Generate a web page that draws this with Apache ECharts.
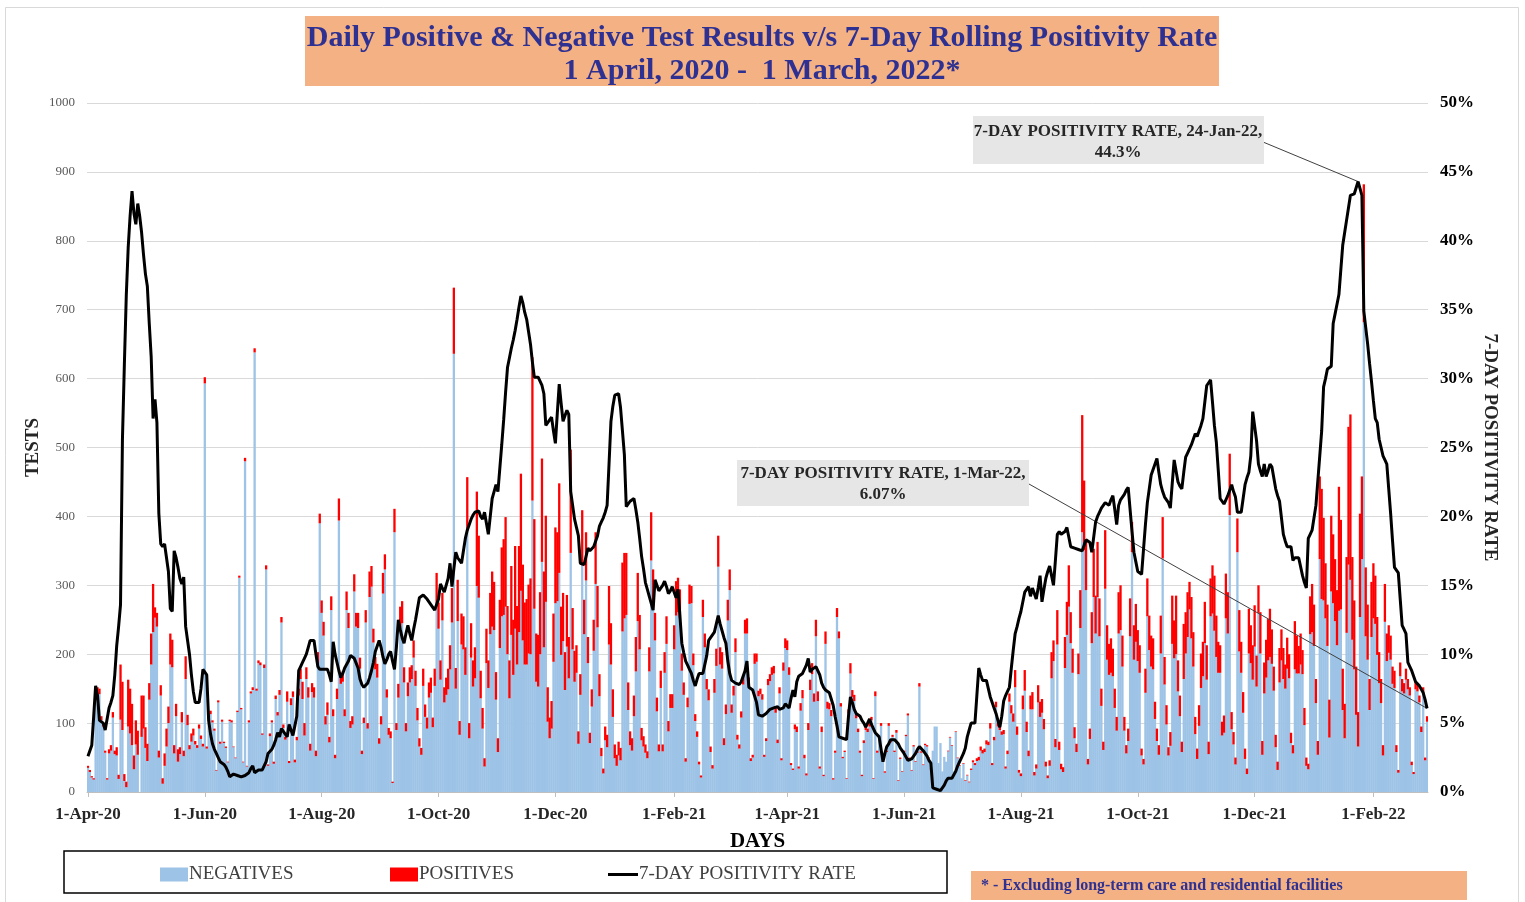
<!DOCTYPE html>
<html>
<head>
<meta charset="utf-8">
<script src="https://cdn.jsdelivr.net/npm/echarts@6/dist/echarts.min.js"></script>
<style>
  html, body { margin: 0; padding: 0; background: #fff; }
  #chart { width: 1525px; height: 902px; }
</style>
</head>
<body>
<div id="chart"></div>
<script>
// daily tests from 1-Apr-20 (index 0) to 1-Mar-22 (index 699)
const negatives = [
  35, 29, 21, 18, 146, 146, 142, 104, 95, 57,
  18, 56, 60, 108, 55, 53, 19, 105, 90, 16,
  7, 95, 85, 68, 33, 69, 54, 0, 80, 92,
  64, 45, 134, 185, 232, 253, 240, 50, 140, 12,
  38, 66, 100, 185, 181, 56, 110, 44, 55, 101,
  52, 164, 97, 62, 73, 82, 69, 64, 92, 77,
  66, 593, 63, 108, 113, 101, 89, 31, 130, 70,
  102, 71, 64, 43, 103, 101, 65, 49, 116, 311,
  120, 43, 480, 37, 101, 143, 148, 638, 147, 187,
  184, 83, 180, 323, 38, 81, 101, 41, 135, 111,
  141, 246, 93, 76, 131, 42, 126, 138, 43, 75,
  140, 164, 135, 82, 164, 137, 60, 145, 137, 52,
  183, 390, 260, 227, 98, 112, 72, 264, 110, 49,
  135, 394, 157, 160, 110, 264, 238, 93, 98, 291,
  240, 238, 179, 55, 100, 246, 92, 283, 298, 217,
  178, 166, 70, 98, 288, 323, 137, 83, 78, 13,
  377, 90, 137, 239, 245, 159, 88, 139, 159, 164,
  195, 154, 104, 66, 54, 154, 109, 92, 137, 144,
  94, 154, 269, 237, 163, 249, 130, 141, 149, 178,
  246, 636, 150, 248, 83, 214, 207, 170, 379, 78,
  195, 153, 165, 299, 282, 136, 92, 37, 187, 151,
  229, 240, 235, 134, 58, 209, 255, 257, 269, 200,
  136, 228, 170, 237, 185, 232, 292, 220, 185, 185,
  201, 200, 423, 266, 160, 153, 200, 334, 210, 276,
  102, 78, 92, 189, 274, 277, 318, 199, 219, 148,
  211, 165, 347, 207, 160, 173, 70, 141, 329, 229,
  307, 187, 71, 124, 205, 302, 239, 139, 52, 27,
  75, 65, 214, 185, 109, 49, 38, 53, 46, 233,
  252, 257, 119, 68, 60, 110, 175, 248, 207, 75,
  66, 57, 49, 175, 336, 268, 220, 117, 59, 151,
  59, 173, 215, 88, 122, 122, 207, 256, 261, 252,
  176, 141, 44, 123, 273, 274, 184, 103, 80, 40,
  21, 254, 210, 149, 133, 58, 34, 144, 183, 327,
  185, 179, 68, 113, 249, 293, 115, 140, 203, 76,
  63, 108, 156, 230, 230, 153, 45, 50, 186, 189,
  139, 142, 134, 51, 74, 155, 161, 170, 172, 115,
  71, 143, 46, 176, 209, 206, 170, 39, 32, 91,
  87, 34, 118, 136, 49, 24, 90, 148, 171, 131,
  226, 132, 34, 87, 23, 215, 121, 120, 110, 18,
  57, 254, 223, 124, 49, 58, 19, 114, 172, 138,
  132, 107, 87, 57, 23, 71, 90, 87, 95, 104,
  19, 139, 57, 77, 96, 44, 28, 58, 96, 72,
  80, 58, 86, 16, 48, 29, 58, 81, 111, 49,
  31, 66, 44, 57, 153, 57, 39, 68, 66, 49,
  33, 60, 95, 95, 42, 71, 30, 51, 44, 59,
  79, 67, 30, 87, 49, 38, 20, 41, 16, 24,
  14, 32, 43, 39, 45, 46, 60, 56, 58, 69,
  68, 92, 39, 75, 123, 95, 90, 83, 84, 34,
  55, 131, 114, 102, 152, 83, 28, 23, 120, 147,
  87, 52, 120, 120, 24, 34, 130, 109, 115, 91,
  37, 20, 38, 165, 190, 65, 214, 61, 33, 29,
  180, 228, 269, 216, 173, 78, 58, 171, 238, 377,
  351, 293, 40, 77, 216, 283, 230, 283, 226, 125,
  61, 295, 192, 170, 173, 168, 122, 89, 230, 235,
  182, 89, 56, 74, 226, 348, 192, 218, 190, 173,
  53, 40, 144, 255, 206, 182, 178, 106, 74, 54,
  201, 339, 156, 98, 53, 67, 215, 194, 200, 146,
  110, 58, 164, 201, 225, 265, 223, 182, 84, 48,
  96, 151, 168, 216, 163, 55, 255, 259, 234, 196,
  173, 173, 82, 86, 252, 230, 402, 91, 69, 40,
  348, 204, 173, 115, 48, 26, 201, 187, 163, 211,
  153, 260, 201, 54, 143, 166, 191, 196, 186, 147,
  65, 32, 159, 191, 164, 150, 179, 165, 71, 56,
  178, 172, 172, 185, 171, 97, 38, 33, 229, 232,
  212, 129, 54, 338, 280, 278, 252, 212, 79, 291,
  274, 248, 213, 263, 265, 119, 78, 231, 330, 308,
  221, 178, 112, 66, 254, 338, 682, 226, 192, 119,
  225, 252, 244, 199, 158, 129, 53, 247, 190, 202,
  192, 157, 151, 58, 28, 168, 146, 143, 163, 149,
  140, 39, 26, 149, 146, 130, 87, 142, 46, 102
];

const positives = [
  3, 3, 2, 2, 4, 6, 8, 6, 5, 3,
  2, 6, 8, 8, 5, 12, 6, 80, 70, 10,
  8, 68, 65, 60, 20, 35, 35, 0, 60, 48,
  30, 25, 24, 45, 70, 15, 20, 10, 15, 8,
  18, 26, 24, 45, 40, 12, 18, 18, 10, 15,
  8, 33, 15, 6, 12, 10, 5, 4, 6, 5,
  4, 9, 3, 4, 5, 3, 3, 1, 3, 3,
  3, 2, 2, 1, 2, 3, 1, 1, 2, 3,
  2, 1, 5, 1, 3, 3, 4, 6, 3, 4,
  4, 2, 5, 6, 2, 4, 3, 3, 5, 5,
  7, 8, 5, 4, 15, 3, 10, 8, 4, 5,
  10, 15, 25, 18, 17, 15, 10, 13, 15, 8,
  20, 14, 18, 20, 12, 18, 8, 20, 10, 5,
  15, 32, 14, 15, 10, 27, 22, 10, 12, 25,
  20, 22, 16, 5, 8, 18, 8, 37, 30, 20,
  18, 20, 8, 12, 30, 22, 12, 10, 10, 2,
  34, 10, 20, 30, 32, 22, 12, 20, 22, 20,
  25, 22, 18, 12, 10, 25, 18, 16, 22, 22,
  14, 25, 49, 38, 28, 40, 22, 25, 30, 35,
  50, 96, 30, 60, 20, 45, 48, 40, 78, 22,
  50, 38, 45, 137, 90, 40, 30, 12, 50, 40,
  60, 80, 70, 40, 20, 70, 100, 110, 130, 70,
  55, 100, 80, 120, 85, 125, 170, 110, 90, 95,
  100, 110, 208, 130, 70, 75, 90, 150, 110, 125,
  50, 30, 40, 70, 110, 100, 130, 70, 70, 55,
  75, 60, 150, 60, 45, 40, 18, 30, 80, 50,
  70, 38, 15, 25, 45, 75, 60, 32, 12, 7,
  20, 18, 85, 60, 40, 20, 16, 20, 18, 100,
  95, 90, 40, 20, 18, 30, 50, 70, 50, 18,
  15, 12, 10, 35, 70, 55, 40, 20, 10, 25,
  10, 30, 40, 15, 20, 20, 35, 50, 50, 42,
  25, 18, 5, 14, 28, 25, 17, 10, 8, 4,
  3, 25, 20, 15, 16, 8, 5, 20, 25, 45,
  25, 24, 10, 14, 30, 30, 12, 14, 20, 7,
  6, 9, 13, 20, 22, 13, 4, 4, 15, 12,
  8, 8, 8, 3, 4, 9, 10, 11, 11, 7,
  5, 9, 3, 12, 14, 14, 11, 3, 2, 7,
  8, 3, 11, 12, 5, 3, 10, 15, 16, 12,
  24, 14, 3, 8, 2, 18, 10, 9, 9, 2,
  3, 13, 10, 5, 2, 2, 1, 6, 15, 10,
  9, 7, 5, 3, 2, 4, 5, 5, 5, 5,
  1, 7, 3, 3, 4, 1, 2, 2, 4, 3,
  3, 2, 4, 1, 2, 1, 2, 2, 3, 1,
  1, 2, 1, 2, 5, 2, 1, 2, 2, 1,
  1, 0, 0, 0, 0, 0, 0, 0, 0, 1,
  1, 1, 0, 1, 1, 1, 0, 1, 1, 1,
  1, 2, 3, 3, 4, 5, 6, 5, 5, 6,
  5, 8, 3, 5, 8, 5, 5, 5, 6, 3,
  5, 12, 12, 12, 25, 12, 4, 4, 20, 30,
  15, 8, 20, 25, 5, 6, 25, 22, 20, 15,
  7, 4, 8, 38, 30, 12, 50, 12, 8, 7,
  45, 48, 60, 45, 35, 16, 12, 30, 55, 170,
  101, 70, 8, 15, 45, 70, 55, 80, 55, 25,
  12, 85, 50, 45, 50, 40, 28, 20, 60, 65,
  45, 20, 12, 18, 55, 44, 50, 55, 45, 40,
  10, 8, 35, 55, 50, 45, 45, 25, 18, 14,
  55, 60, 40, 28, 12, 20, 70, 55, 85, 45,
  30, 15, 80, 60, 65, 40, 60, 50, 25, 15,
  30, 50, 50, 60, 50, 18, 55, 70, 80, 60,
  45, 40, 20, 25, 65, 60, 89, 25, 18, 10,
  49, 60, 45, 30, 15, 8, 65, 55, 50, 60,
  45, 40, 60, 20, 45, 55, 60, 70, 50, 35,
  18, 12, 50, 45, 45, 35, 45, 35, 15, 12,
  70, 55, 40, 45, 35, 25, 12, 8, 55, 70,
  60, 35, 20, 120, 160, 120, 80, 60, 55, 110,
  100, 90, 80, 180, 130, 60, 50, 110, 200, 240,
  120, 100, 70, 50, 150, 120, 200, 100, 80, 45,
  80, 80, 70, 55, 45, 35, 15, 55, 40, 40,
  35, 25, 25, 10, 4, 20, 18, 15, 16, 15,
  12, 5, 3, 12, 12, 10, 8, 10, 4, 8
];

// 7-day rolling positivity rate, percent
const positivityRate = [
  2.6, 3.0, 3.4, 5.5, 7.7, 7.0, 5.2, 5.1, 5.0, 4.5,
  4.4, 6.1, 6.5, 7.0, 8.5, 10.6, 12.0, 13.6, 25.6, 31.0,
  36.0, 39.5, 41.8, 43.6, 42.0, 41.2, 42.7, 41.8, 40.6, 39.0,
  37.6, 36.7, 34.0, 31.6, 27.1, 28.5, 26.8, 20.2, 18.0, 17.8,
  18.0, 18.0, 16.0, 13.3, 13.1, 17.5, 17.0, 16.3, 15.5, 15.1,
  15.6, 12.0, 11.0, 10.0, 8.5, 7.3, 6.5, 6.5, 6.5, 7.5,
  8.9, 8.9, 8.5, 5.2, 4.2, 3.5, 3.1, 2.8, 2.5, 2.2,
  2.1, 2.0, 1.8, 1.5, 1.1, 1.2, 1.3, 1.4, 1.2, 1.1,
  1.1, 1.05, 1.2, 1.3, 1.4, 1.7, 1.9, 1.4, 1.5, 1.6,
  1.6, 1.6, 1.7, 2.2, 2.8, 2.8, 3.1, 3.4, 3.8, 4.3,
  4.0, 4.6, 4.4, 4.2, 4.0, 4.9, 4.5, 4.1, 4.8, 5.5,
  8.8, 9.1, 9.4, 9.7, 10.0, 10.5, 11.0, 11.0, 11.0, 10.0,
  9.1, 8.9, 9.0, 8.9, 8.8, 8.9, 8.5, 8.0, 10.9, 10.0,
  9.4, 8.8, 8.3, 8.6, 9.0, 9.0, 9.5, 9.9, 9.8, 9.7,
  9.7, 9.0, 8.2, 7.8, 7.6, 7.5, 7.9, 8.3, 8.8, 9.4,
  10.2, 10.6, 11.0, 10.5, 9.8, 9.3, 9.6, 10.0, 10.2, 9.5,
  8.9, 10.5, 12.5, 11.8, 11.2, 10.8, 11.5, 12.1, 11.5, 11.0,
  11.8, 12.5, 13.3, 14.1, 14.1, 14.3, 14.2, 14.0, 13.8, 13.6,
  13.4, 13.2, 13.1, 14.0, 15.1, 14.8, 14.5, 14.4, 15.5, 16.6,
  14.9, 16.2, 17.4, 17.0, 16.8, 16.6, 17.5, 18.4, 19.0, 19.4,
  19.8, 20.1, 20.3, 20.4, 20.4, 20.0, 19.8, 20.3, 19.5, 18.7,
  20.0, 21.3, 21.8, 22.3, 21.8, 23.5, 25.2, 27.0, 29.0, 30.8,
  31.5, 32.2, 32.8, 33.5, 34.3, 35.2, 36.0, 35.5, 34.8, 34.3,
  33.4, 32.5, 31.2, 30.1, 30.1, 30.1, 30.1, 29.5, 28.9, 26.6,
  26.8, 27.0, 27.2, 26.2, 25.3, 27.5, 29.6, 28.2, 26.9, 27.3,
  27.7, 27.4, 21.8, 20.8, 19.8, 19.2, 18.6, 16.6, 16.5, 16.5,
  17.1, 17.7, 17.5, 17.4, 17.8, 18.2, 18.6, 19.3, 19.6, 19.9,
  20.3, 20.8, 23.8, 26.9, 28.0, 28.8, 28.9, 28.9, 27.9, 26.2,
  24.5, 20.7, 20.9, 21.1, 21.2, 21.3, 20.5, 19.6, 18.4, 17.1,
  16.2, 15.2, 14.7, 14.2, 13.7, 13.2, 15.4, 15.0, 14.6, 14.8,
  15.0, 15.3, 14.9, 14.4, 14.6, 14.9, 14.5, 14.1, 14.7, 12.8,
  10.8, 10.1, 9.5, 9.2, 8.9, 8.6, 8.1, 7.7, 8.2, 8.6,
  8.6, 8.6, 8.7, 9.9, 11.0, 11.2, 11.4, 11.6, 12.2, 12.8,
  12.2, 11.7, 11.2, 10.8, 9.5, 8.6, 8.1, 8.0, 7.9, 7.8,
  7.8, 8.0, 8.1, 8.8, 9.5, 7.6, 7.5, 7.4, 7.3, 6.5,
  5.6, 5.6, 5.5, 5.5, 5.7, 5.8, 6.0, 6.0, 6.1, 6.1,
  6.2, 6.0, 5.9, 6.1, 6.4, 6.4, 6.1, 6.8, 7.4, 6.9,
  8.0, 8.4, 8.5, 8.6, 8.7, 9.2, 9.7, 8.7, 8.9, 9.0,
  9.1, 9.1, 8.5, 7.9, 7.6, 7.4, 7.3, 7.2, 7.2, 6.3,
  5.5, 4.8, 4.0, 3.9, 3.9, 3.8, 3.8, 5.5, 6.9, 6.5,
  6.0, 5.7, 5.6, 5.5, 5.2, 5.0, 4.7, 5.0, 5.3, 4.9,
  4.6, 4.3, 4.2, 4.0, 3.1, 2.2, 2.8, 3.3, 3.5, 3.8,
  3.8, 3.8, 3.8, 3.5, 3.2, 3.0, 2.8, 2.7, 2.3, 2.4,
  2.4, 2.4, 2.8, 3.1, 3.3, 3.2, 3.0, 2.9, 2.6, 2.3,
  2.1, 0.3, 0.2, 0.2, 0.2, 0.1, 0.1, 0.5, 0.8, 1.0,
  1.0, 1.0, 1.0, 1.5, 1.9, 2.2, 2.5, 2.8, 3.2, 4.0,
  4.5, 5.0, 5.0, 5.0, 7.0, 9.0, 8.5, 8.1, 8.1, 8.1,
  7.5, 6.9, 6.5, 6.1, 5.7, 5.2, 4.7, 5.5, 6.6, 7.0,
  7.3, 7.6, 9.0, 10.3, 11.5, 12.0, 12.6, 13.1, 13.0, 14.5,
  14.7, 14.9, 14.2, 14.8, 14.9, 14.0, 14.8, 15.7, 13.8, 14.7,
  15.5, 16.0, 16.4, 15.7, 15.0, 16.8, 18.7, 18.9, 18.7, 18.6,
  18.9, 19.2, 18.5, 17.8, 17.8, 17.7, 17.7, 17.6, 17.6, 17.5,
  17.9, 18.3, 18.2, 18.1, 17.4, 18.5, 19.6, 20.0, 20.3, 20.6,
  20.8, 21.0, 20.9, 20.8, 21.2, 21.5, 20.5, 19.4, 20.8, 21.2,
  21.4, 21.6, 21.9, 22.1, 20.5, 18.9, 17.4, 16.7, 16.0, 15.9,
  15.8, 17.6, 19.4, 21.0, 22.0, 23.0, 23.4, 23.8, 24.2, 23.2,
  22.3, 21.8, 21.4, 21.2, 21.0, 20.6, 22.4, 24.1, 23.3, 22.5,
  22.2, 22.0, 23.2, 24.3, 24.6, 24.9, 25.2, 25.6, 26.0, 25.8,
  26.2, 26.6, 27.1, 28.3, 29.5, 29.7, 29.9, 28.3, 26.6, 25.4,
  23.4, 21.3, 21.1, 20.9, 21.2, 21.5, 21.9, 22.3, 21.8, 21.4,
  20.3, 20.3, 20.3, 21.3, 22.3, 22.8, 23.2, 24.4, 27.6, 27.6,
  25.5, 23.8, 23.3, 22.9, 23.8, 22.9, 23.3, 23.8, 23.6, 23.5,
  22.0, 21.5, 21.1, 19.9, 18.7, 18.2, 17.8, 17.8, 17.8, 16.8,
  17.0, 17.1, 17.0, 16.9, 15.7, 15.2, 14.8, 18.4, 18.7, 19.0,
  19.0, 20.8, 22.6, 24.4, 26.2, 29.4, 30.0, 30.7, 30.8, 30.9,
  34.0, 34.7, 35.4, 36.1, 37.9, 39.7, 40.6, 41.5, 42.4, 43.3,
  43.4, 43.4, 43.5, 44.3, 43.8, 43.3, 34.9, 33.7, 32.5, 31.1,
  29.8, 28.4, 27.1, 26.8, 25.6, 25.0, 24.4, 24.1, 23.8, 22.0,
  20.2, 18.2, 16.3, 16.1, 15.9, 14.0, 12.1, 11.8, 11.5, 9.4,
  9.1, 8.8, 8.4, 8.0, 7.9, 7.7, 7.6, 7.2, 6.7, 6.07
];

const tickLabels = [
  "1-Apr-20", "1-Jun-20", "1-Aug-20", "1-Oct-20", "1-Dec-20", "1-Feb-21",
  "1-Apr-21", "1-Jun-21", "1-Aug-21", "1-Oct-21", "1-Dec-21", "1-Feb-22"
];

const peakIndex = 663; // 24-Jan-22
const lastIndex = 699; // 1-Mar-22

const monthNames = ["Jan", "Feb", "Mar", "Apr", "May", "Jun", "Jul", "Aug", "Sep", "Oct", "Nov", "Dec"];
const days = [];
for (let i = 0; i < negatives.length; i++) {
  const dt = new Date(Date.UTC(2020, 3, 1 + i));
  days.push(`${dt.getUTCDate()}-${monthNames[dt.getUTCMonth()]}-${String(dt.getUTCFullYear()).slice(2)}`);
}

const serif = '"Liberation Serif", "Times New Roman", serif';
const showTick = (idx, value) => tickLabels.includes(value);

const chart = echarts.init(document.getElementById("chart"));

const legendText = { fontFamily: serif, fontSize: 19, color: "#404040", padding: [0, 0, 0, -4] };

const option = {
  animation: false,
  backgroundColor: "#fff",
  textStyle: { fontFamily: serif },
  grid: { left: 87, right: 97, top: 103, bottom: 110 },
  legend: [
    {
      data: [{ name: "NEGATIVES", icon: "rect" }], left: 160, top: 865, padding: 0,
      itemWidth: 28, itemHeight: 14, selectedMode: false, textStyle: legendText
    },
    {
      data: [{ name: "POSITIVES", icon: "rect" }], left: 390, top: 865, padding: 0,
      itemWidth: 28, itemHeight: 14, selectedMode: false, textStyle: legendText
    },
    {
      data: [{ name: "7-DAY POSITIVITY RATE", icon: "rect" }], left: 608, top: 865, padding: 0,
      itemWidth: 30, itemHeight: 3, selectedMode: false, textStyle: legendText
    }
  ],
  xAxis: {
    type: "category",
    data: days,
    name: "DAYS",
    nameLocation: "middle",
    nameGap: 39,
    nameTextStyle: { fontFamily: serif, fontWeight: "bold", fontSize: 21, color: "#000" },
    axisLine: { lineStyle: { color: "#bfbfbf" } },
    axisTick: { show: true, interval: showTick, alignWithLabel: true, length: 5, lineStyle: { color: "#bfbfbf" } },
    axisLabel: {
      interval: showTick,
      margin: 14,
      fontFamily: serif,
      fontWeight: "bold",
      fontSize: 17,
      color: "#262626"
    }
  },
  yAxis: [
    {
      type: "value",
      min: 0,
      max: 1000,
      interval: 100,
      name: "TESTS",
      nameLocation: "middle",
      nameGap: 44,
      nameMoveOverlap: false,
      nameRotate: 90,
      nameTextStyle: { fontFamily: serif, fontWeight: "bold", fontSize: 19, color: "#262626" },
      axisLine: { show: false },
      axisTick: { show: false },
      axisLabel: {
        margin: 12,
        formatter: (v) => String(v),
        fontFamily: serif,
        fontSize: 13,
        color: "#595959"
      },
      splitLine: { lineStyle: { color: "#d9d9d9", width: 1 } }
    },
    {
      type: "value",
      position: "right",
      min: 0,
      max: 50,
      interval: 5,
      name: "7-DAY POSITIVITY RATE",
      nameLocation: "middle",
      nameGap: 52,
      nameMoveOverlap: false,
      nameRotate: -90,
      nameTextStyle: { fontFamily: serif, fontWeight: "bold", fontSize: 19, color: "#262626" },
      axisLine: { show: false },
      axisTick: { show: false },
      splitLine: { show: false },
      axisLabel: {
        margin: 12,
        formatter: "{value}%",
        fontFamily: serif,
        fontWeight: "bold",
        fontSize: 17,
        color: "#000"
      }
    }
  ],
  series: [
    {
      name: "NEGATIVES",
      type: "bar",
      stack: "tests",
      data: negatives,
      barWidth: 2.3,
      itemStyle: { color: "#9DC3E6" }
    },
    {
      name: "POSITIVES",
      type: "bar",
      stack: "tests",
      data: positives,
      barWidth: 2.3,
      itemStyle: { color: "#FF0000" }
    },
    {
      name: "7-DAY POSITIVITY RATE",
      type: "line",
      yAxisIndex: 1,
      data: positivityRate,
      symbol: "none",
      z: 5,
      itemStyle: { color: "#000" },
      lineStyle: { color: "#000", width: 3 },
      markLine: {
        silent: true,
        symbol: ["none", "none"],
        label: { show: false },
        lineStyle: { color: "#404040", width: 1, type: "solid" },
        data: [
          [{ x: 1263, y: 142 }, { coord: [days[peakIndex], positivityRate[peakIndex]] }],
          [{ x: 1029, y: 484 }, { coord: [days[lastIndex], positivityRate[lastIndex]] }]
        ]
      }
    }
  ],
  graphic: [
    {
      type: "rect", z: 0, silent: true,
      shape: { x: 5.5, y: 7.5, width: 1513, height: 900 },
      style: { fill: "none", stroke: "#d9d9d9", lineWidth: 1 }
    },
    {
      type: "rect", z: 10, silent: true,
      shape: { x: 305, y: 16, width: 914, height: 70 },
      style: { fill: "#F4B183" }
    },
    {
      type: "text", z: 11, silent: true,
      style: {
        text: "Daily Positive & Negative Test Results v/s 7-Day Rolling Positivity Rate\n1 April, 2020 -  1 March, 2022*",
        x: 762, y: 54.5, align: "center", verticalAlign: "middle",
        font: "bold 30px " + serif, fill: "#2E3192", lineHeight: 33
      }
    },
    {
      type: "rect", z: 10, silent: true,
      shape: { x: 973, y: 116, width: 291, height: 48 },
      style: { fill: "#E7E6E6" }
    },
    {
      type: "text", z: 11, silent: true,
      style: {
        text: "7-DAY POSITIVITY RATE, 24-Jan-22,\n44.3%",
        x: 1118, y: 142.5, align: "center", verticalAlign: "middle",
        font: "bold 17px " + serif, fill: "#262626", lineHeight: 21
      }
    },
    {
      type: "rect", z: 10, silent: true,
      shape: { x: 737, y: 460, width: 292, height: 46 },
      style: { fill: "#E7E6E6" }
    },
    {
      type: "text", z: 11, silent: true,
      style: {
        text: "7-DAY POSITIVITY RATE, 1-Mar-22,\n6.07%",
        x: 883, y: 484, align: "center", verticalAlign: "middle",
        font: "bold 17px " + serif, fill: "#262626", lineHeight: 21
      }
    },
    {
      type: "rect", z: 10, silent: true,
      shape: { x: 64, y: 851, width: 883, height: 42 },
      style: { fill: "none", stroke: "#000", lineWidth: 1.5 }
    },
    {
      type: "rect", z: 10, silent: true,
      shape: { x: 971, y: 871, width: 496, height: 29 },
      style: { fill: "#F4B183" }
    },
    {
      type: "text", z: 11, silent: true,
      style: {
        text: "* - Excluding long-term care and residential facilities",
        x: 981, y: 885.5, align: "left", verticalAlign: "middle",
        font: "bold 16px " + serif, fill: "#2E3192"
      }
    }
  ]
};

chart.setOption(option);
</script>
</body>
</html>
